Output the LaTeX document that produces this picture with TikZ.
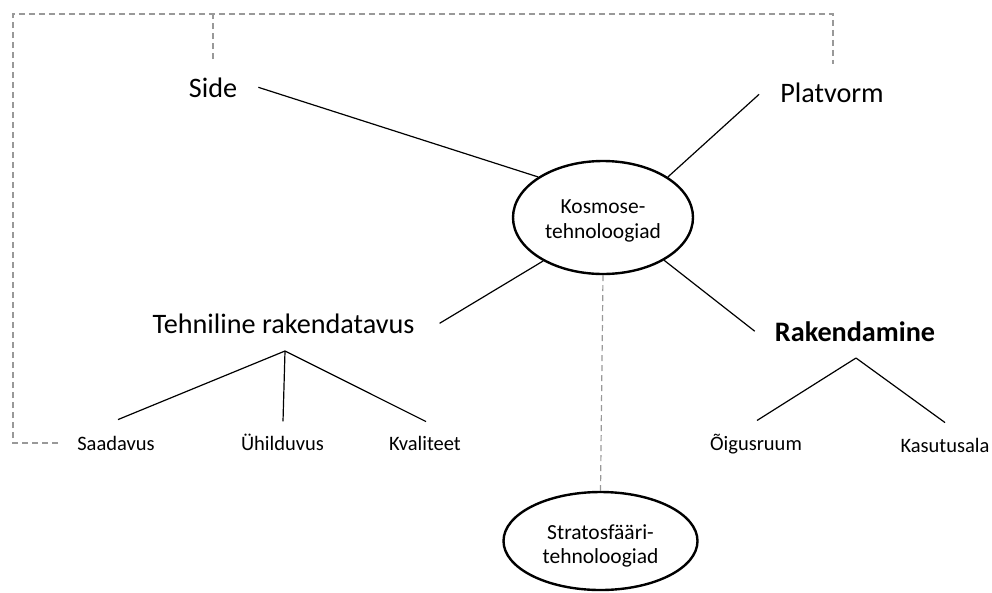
\documentclass[tikz,border=0pt]{standalone}
\usepackage{fontspec}
\setmainfont{Carlito}
\usetikzlibrary{shapes.geometric,calc}
\begin{document}
\begin{tikzpicture}[x=1pt,y=-1pt,
  bigtext/.style={inner sep=0pt,anchor=base,font=\fontsize{28.2}{33}\selectfont},
  smalltext/.style={inner sep=0pt,anchor=base,font=\fontsize{20.5}{24.5}\selectfont},
  ovaltext/.style={inner sep=0pt,align=center,font=\fontsize{21.5}{24.5}\selectfont},
  oval/.style={draw,ellipse,line width=2.4pt,inner sep=0pt},
  link/.style={draw,line width=1.2pt},
  hint/.style={draw,line width=1.2pt,color=black!40,dash pattern=on 6pt off 4pt}]
\useasboundingbox (0,0) rectangle (992,592);

% central ovals
\node[oval,minimum width=180pt,minimum height=113pt] (kos) at (603,217.5) {};
\node[ovaltext] at (603,221) {Kosmose-\\tehnoloogiad};
\node[oval,minimum width=194pt,minimum height=98pt] (strat) at (600.5,541) {};
\node[ovaltext] at (600.5,546) {Stratosfääri-\\tehnoloogiad};

% main labels
\node[bigtext] (side) at (213,97) {Side};
\node[bigtext] (plat) at (832,102) {Platvorm};
\node[bigtext] (tech) at (283.5,333) {Tehniline rakendatavus};
\node[bigtext,font=\fontsize{28.2}{33}\selectfont\bfseries] (rak) at (855,341) {Rakendamine};

% sub labels
\node[smalltext] (saad) at (116,450) {Saadavus};
\node[smalltext] (uhil) at (282.5,450) {Ühilduvus};
\node[smalltext] (kval) at (425,450) {Kvaliteet};
\node[smalltext] (oig) at (756,450) {Õigusruum};
\node[smalltext] (kas) at (945,452) {Kasutusala};

% spokes of the central oval
\draw[link] ($(side.east)+(21,0)$) -- (kos.148.5);
\draw[link] ($(plat.west)+(-21,2)$) -- (kos.32);
\draw[link] ($(tech.east)+(25,0)$) -- (kos.216);
\draw[link] ($(rak.west)+(-20,0)$) -- (kos.325);

% branching under the two aspects
\coordinate (tfork) at ($(tech.base)+(1.5,18)$);
\draw[link] (tfork) -- ($(saad.north)+(2,-16)$);
\draw[link] (tfork) -- ($(uhil.north)+(0.5,-12)$);
\draw[link] (tfork) -- ($(kval.north)+(1,-14)$);
\coordinate (rfork) at ($(rak.base)+(1,17)$);
\draw[link] (rfork) -- ($(oig.north)+(1,-13)$);
\draw[link] (rfork) -- ($(kas.north)+(0,-15)$);

% dashed relations
\coordinate (corner) at (13,14);
\draw[hint] ($(saad.west)+(-19,0)$) -| (corner) -| ($(plat.north)+(1,-18)$);
\draw[hint] ($(side.north)+(0,-18)$) -- (side.north |- corner);
\draw[hint] (kos.south) -- (strat.north);
\end{tikzpicture}
\end{document}
